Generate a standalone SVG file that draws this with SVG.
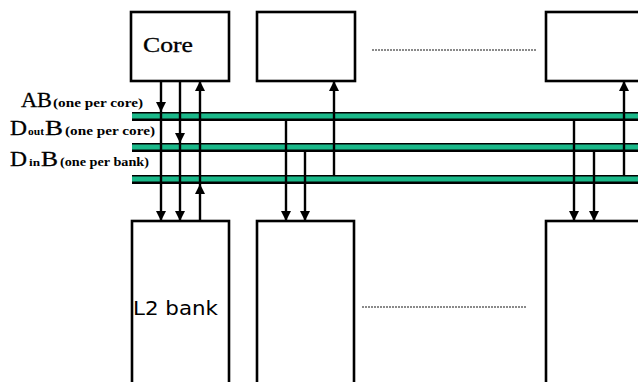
<svg xmlns="http://www.w3.org/2000/svg" width="638" height="382" viewBox="0 0 638 382">
  <style>
    .box { fill: #fff; stroke: #000; stroke-width: 2.6; }
    .busout { fill: #000; }
    .busin { fill: #1bb98a; }
    .wire { fill: none; stroke: #000; stroke-width: 2.4; }
    .dots { stroke: #8a8a8a; stroke-width: 1.8; stroke-dasharray: 2 1; fill: none; }
    .big { font-family: "Liberation Serif", "DejaVu Serif", serif; font-size: 20px; fill: #000; stroke: #000; stroke-width: 0.3; }
    .small { font-family: "Liberation Serif", "DejaVu Serif", serif; font-size: 12.5px; font-weight: bold; fill: #000; }
    .sub { font-family: "Liberation Serif", "DejaVu Serif", serif; font-size: 11px; font-weight: bold; fill: #000; }
    .sans { font-family: "DejaVu Sans", "Liberation Sans", sans-serif; font-size: 19px; fill: #000; }
  </style>
  <defs>
    <marker id="arr" viewBox="0 0 10 10" refX="10" refY="5" markerWidth="10" markerHeight="10" markerUnits="userSpaceOnUse" orient="auto">
      <path d="M0,0 L10,5 L0,10 Z" fill="#000"/>
    </marker>
  </defs>

  <g id="core0">
    <rect class="box" x="131" y="12" width="98" height="69"/>
    <text class="big" x="143" y="52" textLength="50" lengthAdjust="spacingAndGlyphs">Core</text>
  </g>
  <g id="core1"><rect class="box" x="257" y="12" width="98" height="69"/></g>
  <g id="coreN"><rect class="box" x="546" y="12" width="100" height="69"/></g>
  <g id="dots-top"><line class="dots" x1="372" y1="50" x2="536" y2="50"/></g>

  <g id="bank0">
    <rect class="box" x="132" y="221" width="97" height="170"/>
    <text class="sans" x="133" y="315" textLength="85" lengthAdjust="spacingAndGlyphs">L2 bank</text>
  </g>
  <g id="bank1"><rect class="box" x="257" y="221" width="97" height="170"/></g>
  <g id="bankN"><rect class="box" x="546" y="221" width="100" height="170"/></g>
  <g id="dots-bottom"><line class="dots" x1="362" y1="307" x2="526" y2="307"/></g>

  <g id="bus-AB">
    <rect class="busout" x="132" y="112" width="510" height="9"/>
    <rect class="busin" x="132" y="113.5" width="510" height="5"/>
  </g>
  <g id="bus-DoutB">
    <rect class="busout" x="132" y="143" width="510" height="9"/>
    <rect class="busin" x="132" y="144.5" width="510" height="5"/>
  </g>
  <g id="bus-DinB">
    <rect class="busout" x="132" y="175" width="510" height="9"/>
    <rect class="busin" x="132" y="176.5" width="510" height="5"/>
  </g>

  <g id="label-AB">
    <text class="big" x="21" y="107" textLength="31" lengthAdjust="spacingAndGlyphs">AB</text>
    <text class="small" x="53" y="107" textLength="90" lengthAdjust="spacingAndGlyphs">(one per core)</text>
  </g>
  <g id="label-DoutB">
    <text class="big" x="10" y="135" textLength="17" lengthAdjust="spacingAndGlyphs">D</text>
    <text class="sub" x="28" y="135" textLength="16" lengthAdjust="spacingAndGlyphs">out</text>
    <text class="big" x="45" y="135" textLength="18" lengthAdjust="spacingAndGlyphs">B</text>
    <text class="small" x="65" y="135" textLength="90" lengthAdjust="spacingAndGlyphs">(one per core)</text>
  </g>
  <g id="label-DinB">
    <text class="big" x="10" y="166" textLength="17" lengthAdjust="spacingAndGlyphs">D</text>
    <text class="sub" x="29" y="166" textLength="11" lengthAdjust="spacingAndGlyphs">in</text>
    <text class="big" x="41" y="166" textLength="17" lengthAdjust="spacingAndGlyphs">B</text>
    <text class="small" x="60" y="166" textLength="89" lengthAdjust="spacingAndGlyphs">(one per bank)</text>
  </g>

  <g id="connectors">
    <path class="wire" d="M161 81 V112" marker-end="url(#arr)"/>
    <path class="wire" d="M161 112 V221" marker-end="url(#arr)"/>
    <path class="wire" d="M180 81 V143" marker-end="url(#arr)"/>
    <path class="wire" d="M180 143 V221" marker-end="url(#arr)"/>
    <path class="wire" d="M200 221 V184" marker-end="url(#arr)"/>
    <path class="wire" d="M200 184 V81" marker-end="url(#arr)"/>

    <path class="wire" d="M286 120 V221" marker-end="url(#arr)"/>
    <path class="wire" d="M305 152 V221" marker-end="url(#arr)"/>
    <path class="wire" d="M334 175 V81" marker-end="url(#arr)"/>

    <path class="wire" d="M574 120 V221" marker-end="url(#arr)"/>
    <path class="wire" d="M594 152 V221" marker-end="url(#arr)"/>
    <path class="wire" d="M624 175 V81" marker-end="url(#arr)"/>
  </g>
</svg>
